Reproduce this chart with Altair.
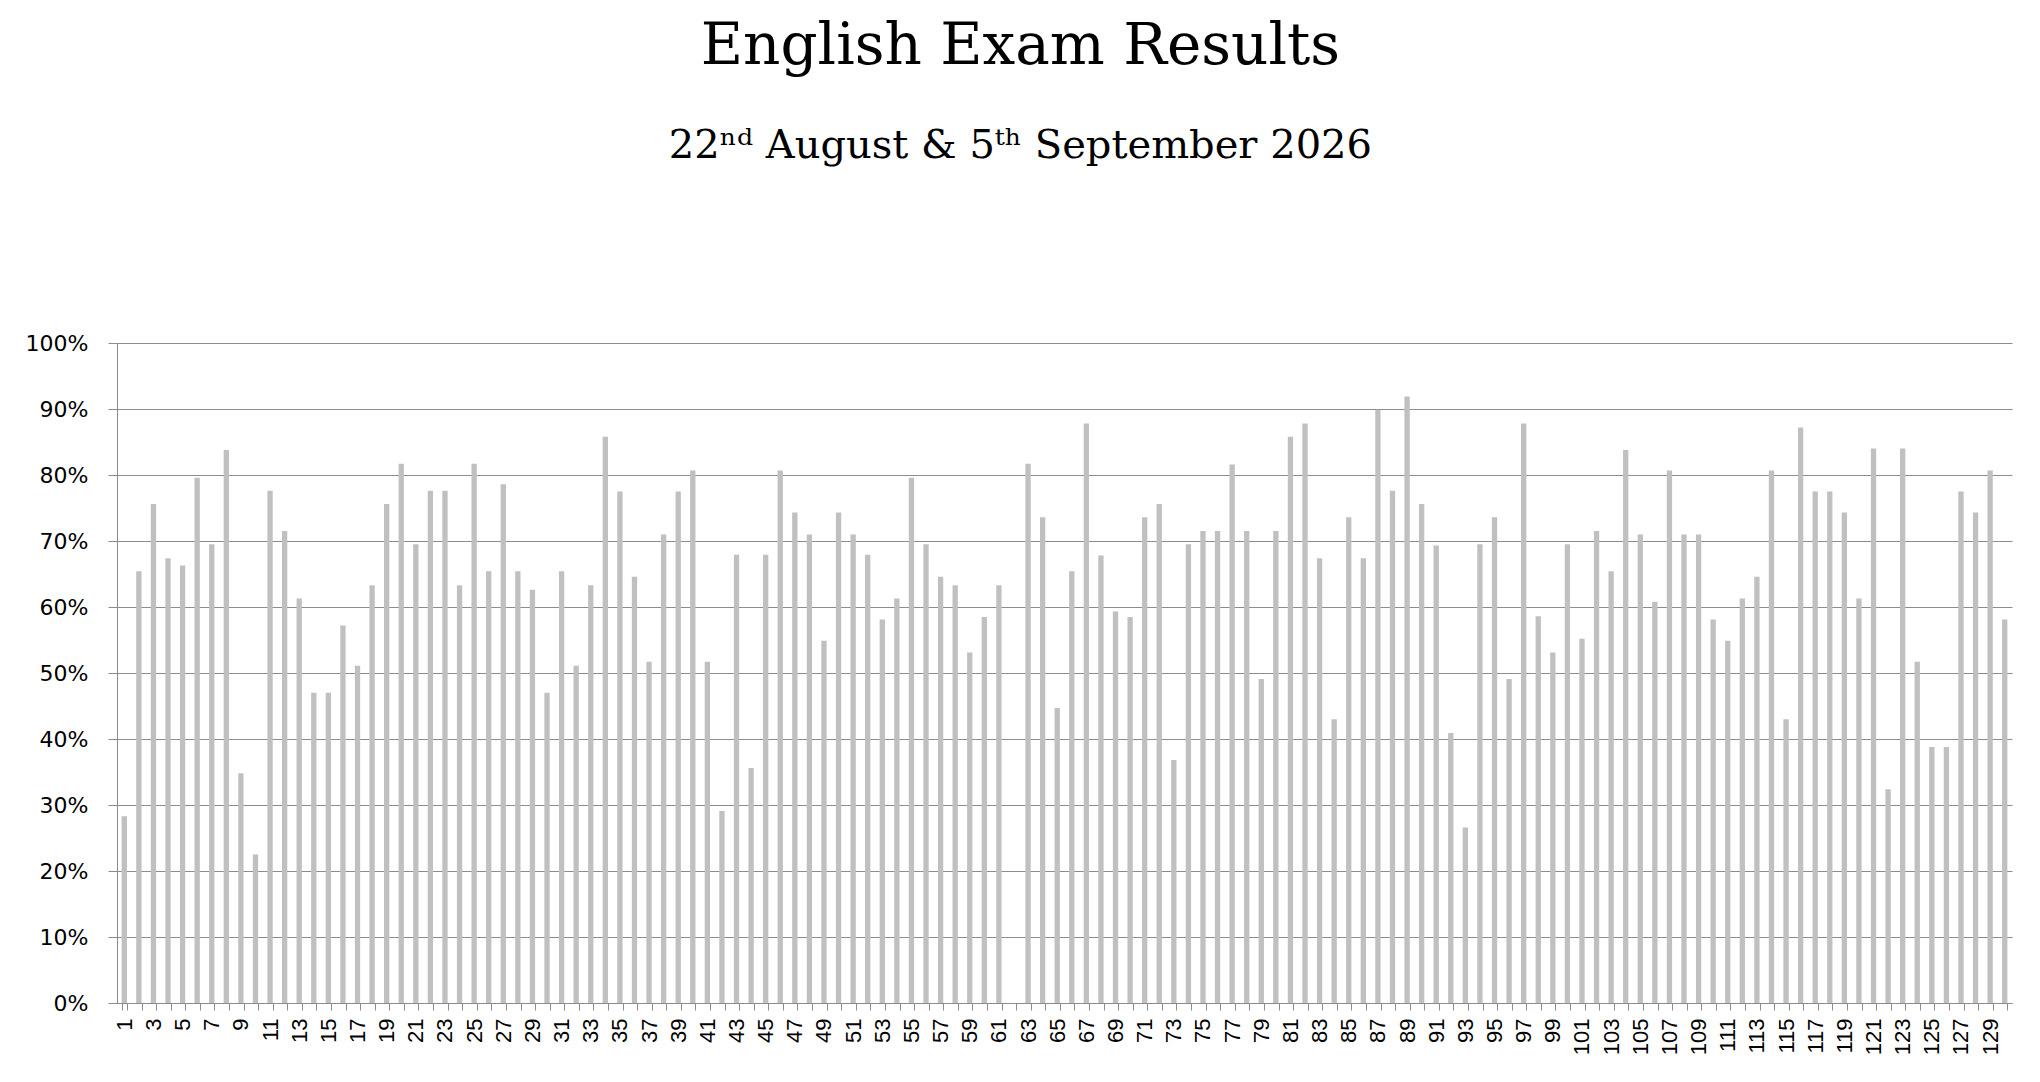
import altair as alt
import pandas as pd

students = list(range(1, 131))
scores = [
    28.3, 65.4, 75.6, 67.4, 66.3, 79.6, 69.5, 83.8, 34.8, 22.5,
    77.6, 71.5, 61.3, 47.0, 47.0, 57.2, 51.1, 63.3, 75.6, 81.7,
    69.5, 77.6, 77.6, 63.3, 81.7, 65.4, 78.6, 65.4, 62.6, 47.0,
    65.4, 51.1, 63.3, 85.8, 77.5, 64.6, 51.7, 71.0, 77.5, 80.7,
    51.7, 29.1, 67.9, 35.6, 67.9, 80.7, 74.3, 71.0, 54.9, 74.3,
    71.0, 67.9, 58.1, 61.3, 79.6, 69.5, 64.6, 63.3, 53.1, 58.5,
    63.3, 0.0, 81.7, 73.6, 44.7, 65.4, 87.8, 67.8, 59.3, 58.5,
    73.6, 75.6, 36.8, 69.5, 71.5, 71.5, 81.6, 71.5, 49.1, 71.5,
    85.8, 87.8, 67.4, 43.0, 73.6, 67.4, 89.9, 77.6, 91.9, 75.6,
    69.3, 40.9, 26.6, 69.5, 73.6, 49.1, 87.8, 58.6, 53.1, 69.5,
    55.2, 71.5, 65.4, 83.8, 71.0, 60.8, 80.7, 71.0, 71.0, 58.1,
    54.9, 61.3, 64.6, 80.7, 43.0, 87.2, 77.5, 77.5, 74.3, 61.3,
    84.0, 32.4, 84.0, 51.7, 38.8, 38.8, 77.5, 74.3, 80.7, 58.1,
]
y_ticks = [0, 0.1, 0.2, 0.3, 0.4, 0.5, 0.6, 0.7, 0.8, 0.9, 1.0]
title_text = "English Exam Results"
subtitle_text = "22ⁿᵈ August & 5ᵗʰ September 2026"

df = pd.DataFrame({"student": students, "score": [s / 100 for s in scores]})

chart = alt.Chart(df).mark_bar(color="#c0c0c0").encode(
    x=alt.X(
        "student:O",
        scale=alt.Scale(paddingInner=0.636, paddingOuter=0.318),
        axis=alt.Axis(
            title=None,
            labelAngle=270,
            labelExpr="datum.value % 2 == 1 ? datum.label : ''",
            labelOverlap=False,
            labelFont="Liberation Sans",
            labelFontSize=22,
            labelColor="#000000",
            labelPadding=8,
            tickBand="extent",
            tickSize=7,
            tickColor="#8c8c8c",
            domainColor="#8c8c8c",
            grid=False,
        ),
    ),
    y=alt.Y(
        "score:Q",
        scale=alt.Scale(domain=[0, 1], nice=False),
        axis=alt.Axis(
            title=None,
            values=y_ticks,
            format=".0%",
            labelFont="DejaVu Sans",
            labelFontSize=22,
            labelColor="#000000",
            labelPadding=20,
            tickSize=9,
            tickColor="#8c8c8c",
            domainColor="#8c8c8c",
            gridColor="#8c8c8c",
            gridOpacity=1,
        ),
    ),
).properties(
    width=1895,
    height=660,
    padding={"left": 17, "top": 10, "right": 5, "bottom": 5},
    title=alt.TitleParams(
        text=title_text,
        subtitle=subtitle_text,
        font="DejaVu Serif",
        fontSize=58,
        fontWeight="normal",
        color="#000000",
        subtitleFont="DejaVu Serif",
        subtitleFontSize=40,
        subtitleColor="#000000",
        subtitlePadding=50,
        anchor="middle",
        frame="bounds",
        offset=166,
    ),
).configure_view(stroke=None)

chart.save("out.html", embed_options={"renderer": "svg", "actions": False})
